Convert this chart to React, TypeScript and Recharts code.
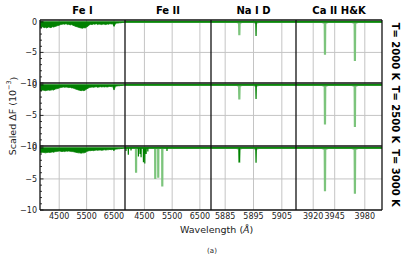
import React from 'react';
import { ComposedChart, Line, Area, XAxis, YAxis, CartesianGrid, ReferenceLine } from 'recharts';

const COLUMNS = ['Fe I', 'Fe II', 'Na I D', 'Ca II H&K'];
const TEMPS = ['T= 2000 K', 'T= 2500 K', 'T= 3000 K'];
const X_DOMAINS = [[3800, 6900], [3800, 6900], [5880, 5910], [3900, 4000]];
const X_TICKS = [[4500, 5500, 6500], [4500, 5500, 6500], [5885, 5895, 5905], [3920, 3945, 3980]];
const Y_MINOR = [-10, -9, -8, -7, -6, -5, -4, -3, -2, -1, 0];

// Fe I: blended line forest, depth on a 50 A grid
const FE1_WAVE = [
  3800, 3850, 3900, 3950, 4000, 4050, 4100, 4150, 4200, 4250, 4300, 4350, 4400, 4450, 4500, 4550,
  4600, 4650, 4700, 4750, 4800, 4850, 4900, 4950, 5000, 5050, 5100, 5150, 5200, 5250, 5300, 5350,
  5400, 5450, 5500, 5550, 5600, 5650, 5700, 5750, 5800, 5850, 5900, 5950, 6000, 6050, 6100, 6150,
  6200, 6250, 6300, 6350, 6400, 6450, 6500, 6550, 6600, 6650, 6700, 6750, 6800, 6850, 6900,
];
const FE1_2000 = [
  -0.85, -0.95, -0.8, -0.95, -0.9, -1.0, -0.85, -0.9, -0.95, -0.8, -0.85, -0.75, -0.7, -0.6, -0.55, -0.45,
  -0.4, -0.35, -0.4, -0.3, -0.45, -0.4, -0.5, -0.45, -0.55, -0.65, -0.75, -0.8, -0.9, -0.95, -1.0, -1.05,
  -0.95, -1.0, -0.85, -0.7, -0.5, -0.4, -0.45, -0.35, -0.4, -0.3, -0.45, -0.35, -0.4, -0.45, -0.35, -0.4,
  -0.45, -0.35, -0.4, -0.3, -0.35, -0.3, -0.75, -0.3, -0.2, -0.2, -0.15, -0.15, -0.1, -0.1, -0.05,
];
const FE1_2500 = [
  -0.9, -0.95, -0.85, -0.9, -0.95, -0.9, -0.85, -0.9, -0.85, -0.8, -0.85, -0.7, -0.65, -0.6, -0.5, -0.45,
  -0.4, -0.35, -0.4, -0.35, -0.4, -0.45, -0.4, -0.5, -0.5, -0.6, -0.7, -0.75, -0.85, -0.9, -0.95, -0.9,
  -0.95, -0.85, -0.7, -0.55, -0.45, -0.4, -0.35, -0.4, -0.35, -0.3, -0.4, -0.35, -0.3, -0.35, -0.3, -0.35,
  -0.3, -0.35, -0.3, -0.25, -0.3, -0.25, -0.85, -0.25, -0.2, -0.15, -0.15, -0.1, -0.1, -0.05, -0.05,
];
const FE1_3000 = [
  -0.75, -0.8, -0.7, -0.75, -0.8, -0.75, -0.7, -0.75, -0.7, -0.65, -0.7, -0.6, -0.6, -0.55, -0.5, -0.55,
  -0.6, -0.55, -0.6, -0.5, -0.55, -0.5, -0.55, -0.6, -0.6, -0.65, -0.7, -0.75, -0.8, -0.8, -0.85, -0.8,
  -0.8, -0.75, -0.6, -0.5, -0.45, -0.45, -0.4, -0.45, -0.4, -0.35, -0.4, -0.35, -0.35, -0.4, -0.35, -0.3,
  -0.35, -0.3, -0.3, -0.25, -0.3, -0.25, -0.45, -0.2, -0.2, -0.15, -0.15, -0.1, -0.1, -0.05, -0.05,
];
const FE1_ROWS = [FE1_2000, FE1_2500, FE1_3000];

// line lists: [centre (A), depth]
const FE2_LIGHT = [[], [], [[4199, -4.0], [4890, -5.0], [4999, -4.8], [5144, -6.2]]];
const FE2_DARK = [[], [], [
  [3836, -0.5], [3920, -1.1], [4017, -0.4], [4284, -1.4], [4344, -1.0], [4380, -1.5],
  [4465, -2.3], [4514, -2.5], [4562, -1.0], [4623, -0.6], [5314, -0.5],
]];
const NA_LIGHT = [[[5890.0, -2.2]], [[5890.0, -2.4]], [[5890.0, -2.4]]];
const NA_DARK = [[[5895.9, -2.3]], [[5895.9, -2.3]], [[5890.0, -2.3], [5895.9, -2.4]]];
const NA_WINGS = [5890.0, 5895.9];
const CA_LIGHT = [[[3933.7, -5.4], [3968.5, -6.4]], [[3933.7, -6.5], [3968.5, -6.9]], [[3933.7, -7.0], [3968.5, -7.4]]];
const CA_DARK = [[], [], []];
const CA_WINGS = [3933.7, 3968.5];

const LEFTS = [40, 125, 211, 296];
const WIDTHS = [85, 86, 85, 86];
const TOPS = [20, 83, 146];
const HEIGHTS = [63, 63, 64];
const V_EDGES = [40, 125, 211, 296, 382];
const H_EDGES = [20, 83, 146, 210];

const DARK = '#008000';
const LIGHT = '#7cc47c';
const FONT = 'DejaVu Sans, sans-serif';
const PAD = 6;

const profile = (lines: number[][], hw: number, dom: number[]) => {
  const pts = [{ w: dom[0], f: 0 }];
  [...lines].sort((a, b) => a[0] - b[0]).forEach(([c, d]) => {
    pts.push({ w: c - hw, f: 0 }, { w: c, f: d }, { w: c + hw, f: 0 });
  });
  pts.push({ w: dom[1], f: 0 });
  return pts;
};

const wings = (centres: number[], hw: number, dom: number[]) => {
  const pts = [{ w: dom[0], f: 0 }];
  centres.forEach((c) => pts.push({ w: c - hw, f: 0 }, { w: c, f: -0.35 }, { w: c + hw, f: 0 }));
  pts.push({ w: dom[1], f: 0 });
  return pts;
};

const YTick = (props: any) => {
  const { x, y, payload, showLabel } = props;
  const major = payload.value % 5 === 0;
  return (
    <g>
      <line x1={x} x2={x + (major ? 3.5 : 2)} y1={y} y2={y} stroke="#000" strokeWidth={0.8} />
      {showLabel && major && (
        <text x={x - 3} y={y} dy={3} textAnchor="end" fontSize={8} fill="#222" fontFamily={FONT}>
          {String(payload.value).replace('-', '\u2212')}
        </text>
      )}
    </g>
  );
};

const Panel = ({ r, c }: { r: number; c: number }) => {
  const dom = X_DOMAINS[c];
  const leftCol = c === 0;
  const bottom = r === 2;
  const padTop = leftCol ? PAD : 0;
  const padBottom = leftCol && !bottom ? PAD : 0;
  const w = WIDTHS[c] + (leftCol ? 40 : 0);
  const h = HEIGHTS[r] + (bottom ? 14 : 0) + padTop + padBottom;

  let light: any[] = [];
  let dark: any[] = [];
  let wing: any[] | null = null;
  if (c === 1) {
    light = profile(FE2_LIGHT[r], 4, dom);
    dark = profile(FE2_DARK[r], 4, dom);
  } else if (c === 2) {
    light = profile(NA_LIGHT[r], 0.1, dom);
    dark = profile(NA_DARK[r], 0.1, dom);
    wing = wings(NA_WINGS, 1.5, dom);
  } else if (c === 3) {
    light = profile(CA_LIGHT[r], 0.3, dom);
    dark = profile(CA_DARK[r], 0.3, dom);
    wing = wings(CA_WINGS, 6, dom);
  }
  const fe1 = FE1_WAVE.map((wv, i) => ({ w: wv, f: FE1_ROWS[r][i] }));

  return (
    <div style={{ position: 'absolute', left: LEFTS[c] - (leftCol ? 40 : 0), top: TOPS[r] - padTop }}>
      <ComposedChart width={w} height={h} margin={{ top: padTop, right: 0, bottom: padBottom, left: 0 }}>
        <CartesianGrid horizontalValues={[-5]} verticalValues={X_TICKS[c]} stroke="#c4c4c4" strokeWidth={1} />
        <XAxis
          type="number"
          dataKey="w"
          domain={dom}
          allowDataOverflow
          ticks={X_TICKS[c]}
          interval={0}
          hide={!bottom}
          height={bottom ? 14 : 0}
          tickLine={false}
          axisLine={false}
          tickSize={0}
          tickMargin={3}
          tick={{ fontSize: 8, fill: '#222', fontFamily: FONT }}
        />
        <YAxis
          type="number"
          domain={[-10, 0.3]}
          allowDataOverflow
          ticks={Y_MINOR}
          interval={0}
          width={leftCol ? 40 : 0}
          tickLine={false}
          axisLine={false}
          tickSize={0}
          tickMargin={0}
          tick={<YTick showLabel={leftCol} />}
        />
        {c === 0 && (
          <Area
            data={fe1}
            dataKey="f"
            type="linear"
            baseValue={0}
            stroke={DARK}
            strokeWidth={0.8}
            fill={DARK}
            fillOpacity={1}
            isAnimationActive={false}
          />
        )}
        {wing && (
          <Line data={wing} dataKey="f" stroke="#b8b8b8" strokeWidth={1} dot={false} isAnimationActive={false} />
        )}
        {c > 0 && (
          <Line data={light} dataKey="f" stroke={LIGHT} strokeWidth={2.2} dot={false} isAnimationActive={false} />
        )}
        {c > 0 && (
          <Line data={dark} dataKey="f" stroke={DARK} strokeWidth={1.2} dot={false} isAnimationActive={false} />
        )}
        <ReferenceLine y={0} stroke={DARK} strokeWidth={1} />
      </ComposedChart>
    </div>
  );
};

export default function App() {
  return (
    <div style={{ position: 'absolute', left: 0, top: 0, width: 406, height: 262, background: '#fff' }}>
      {TEMPS.map((_, r) => COLUMNS.map((__, c) => <Panel key={`${r}-${c}`} r={r} c={c} />))}
      <svg width={406} height={262} style={{ position: 'absolute', left: 0, top: 0, pointerEvents: 'none' }}>
        {V_EDGES.map((x) => (
          <line key={`v-${x}`} x1={x} x2={x} y1={H_EDGES[0]} y2={H_EDGES[3]} stroke="#111" strokeWidth={1.3} />
        ))}
        {H_EDGES.map((y) => (
          <line key={`h-${y}`} x1={V_EDGES[0]} x2={V_EDGES[4]} y1={y} y2={y} stroke="#111" strokeWidth={1.3} />
        ))}
        {COLUMNS.map((t, c) => (
          <text key={t} x={LEFTS[c] + WIDTHS[c] / 2} y={14} textAnchor="middle" fontSize={10} fontWeight="bold" fontFamily={FONT} fill="#000">
            {t}
          </text>
        ))}
        {TEMPS.map((t, r) => {
          const cy = TOPS[r] + HEIGHTS[r] / 2;
          return (
            <text key={t} x={395} y={cy} transform={`rotate(90 395 ${cy})`} textAnchor="middle" dominantBaseline="central" fontSize={10} fontWeight="bold" fontFamily={FONT} fill="#000">
              {t}
            </text>
          );
        })}
        <text x={12.5} y={116} transform="rotate(-90 12.5 116)" textAnchor="middle" dominantBaseline="central" fontSize={9.5} fontFamily={FONT} fill="#222">
          Scaled ΔF (10<tspan dy={-4} fontSize={6.5}>−3</tspan><tspan dy={4}>)</tspan>
        </text>
        <text x={180} y={233} fontSize={9.5} fontFamily={FONT} fill="#222">
          Wavelength (<tspan fontStyle="italic">Å</tspan>)
        </text>
        <text x={212} y={253} textAnchor="middle" fontSize={7} fontFamily={FONT} fill="#222">
          (a)
        </text>
      </svg>
    </div>
  );
}
